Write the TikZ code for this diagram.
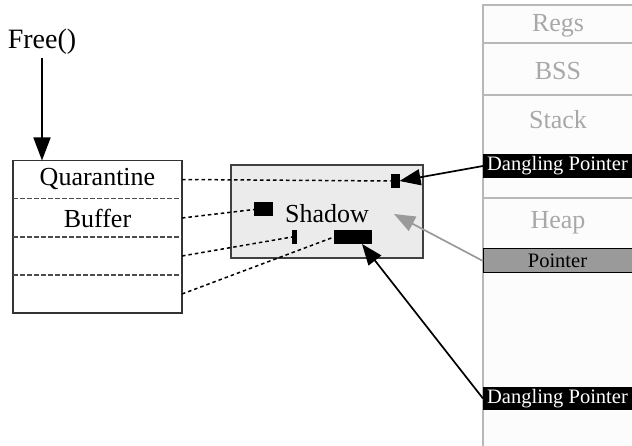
\documentclass[tikz,border=0pt]{standalone}
\usepackage{fontspec}
\setmainfont{Liberation Serif}
\usetikzlibrary{arrows.meta}
\definecolor{shadowfill}{HTML}{EBEBEB}
\definecolor{memgray}{HTML}{B8B8B8}
\definecolor{memtext}{HTML}{A8A8A8}
\definecolor{ptrfill}{HTML}{9A9A9A}
\begin{document}
\begin{tikzpicture}[x=1pt,y=-1pt,
  big/.style={font=\fontsize{26}{30}\selectfont},
  small/.style={font=\fontsize{20.5}{24}\selectfont},
  row/.style={minimum width=169pt,minimum height=38pt,inner sep=0pt,outer sep=0pt,big},
  blk/.style={fill=black,draw=none,inner sep=0pt,outer sep=0pt,minimum height=14pt},
  dotline/.style={line width=1.5pt,dash pattern=on 3.5pt off 3pt},
  memlbl/.style={big,text=memtext},
  membox/.style={minimum width=149pt,inner sep=0pt,outer sep=0pt,small},
  arr/.style={line width=1.7pt,-{Triangle[length=21pt,width=16pt]}}
]
\useasboundingbox (0,0) rectangle (632,446);
% memory column
\fill[black!1] (483,5) rectangle (632,446);
\draw[memgray,line width=1.1pt] (632,5) -- (483,5) -- (483,446);
\draw[memgray,line width=1.1pt] (483,43) -- (632,43);
\draw[memgray,line width=1.1pt] (483,95) -- (632,95);
\draw[memgray,line width=1.1pt] (483,198) -- (632,198);
\node[memlbl] (regs) at (558,26) {Regs};
\node[memlbl] (bss) at (558,71) {BSS};
\node[memlbl] (stack) at (558,120) {Stack};
\node[memlbl] (heap) at (558,223) {Heap};
\node[membox,fill=black,text=white,minimum height=24pt] (dp1) at (557.5,166) {Dangling Pointer};
\node[membox,fill=ptrfill,draw=black,line width=1pt,minimum height=24pt] (ptr) at (557.5,261) {Pointer};
\node[membox,fill=black,text=white,minimum height=23pt] (dp2) at (557.5,398.5) {Dangling Pointer};
% Free
\node[font=\fontsize{28}{32}\selectfont,inner sep=0pt] (free) at (42,42) {Free()};
% quarantine
\node[row] (q1) at (97.5,179.5) {Quarantine};
\node[row] (q2) at (97.5,218) {Buffer};
\node[row] (q3) at (97.5,256) {};
\node[row] (q4) at (97.5,294) {};
\draw[line width=1.2pt,black!80] (q1.north west) rectangle (q4.south east);
\draw[black!70,line width=1.1pt,dash pattern=on 4.5pt off 2.5pt] (q1.south west) -- (q1.south east);
\draw[black!70,line width=1.1pt,dash pattern=on 4.5pt off 2.5pt] (q2.south west) -- (q2.south east);
\draw[black!70,line width=1.1pt,dash pattern=on 4.5pt off 2.5pt] (q3.south west) -- (q3.south east);
\coordinate (fstart) at (42,58);
\draw[line width=1.7pt,-{Triangle[length=23pt,width=17pt]}] (fstart) -- (q1.north -| fstart);
% shadow
\node[draw=black!75,fill=shadowfill,line width=1.2pt,minimum width=192pt,minimum height=93pt,inner sep=0pt] (shadow) at (327,211.5) {};
\node[big] (shtxt) at (327,214) {Shadow};
\node[blk,minimum width=9pt] (s1) at (395,181) {};
\node[blk,minimum width=19pt] (s2) at (263.5,209.5) {};
\node[blk,minimum width=5pt] (s3) at (294.5,237) {};
\node[blk,minimum width=38pt] (s4) at (353,237) {};
\draw[dotline] (q1.east) -- (s1.west);
\draw[dotline] (q2.east) -- (s2.west);
\draw[dotline] (q3.east) -- (s3.west);
\draw[dotline] (q4.east) -- (s4.west);
% arrows
\coordinate (gtip) at (394,214);
\draw[arr] (dp1.west) -- (s1.east);
\draw[arr,ptrfill] (ptr.west) -- (gtip);
\draw[arr] (dp2.west) -- ([xshift=-10pt]s4.south east);
\end{tikzpicture}
\end{document}
